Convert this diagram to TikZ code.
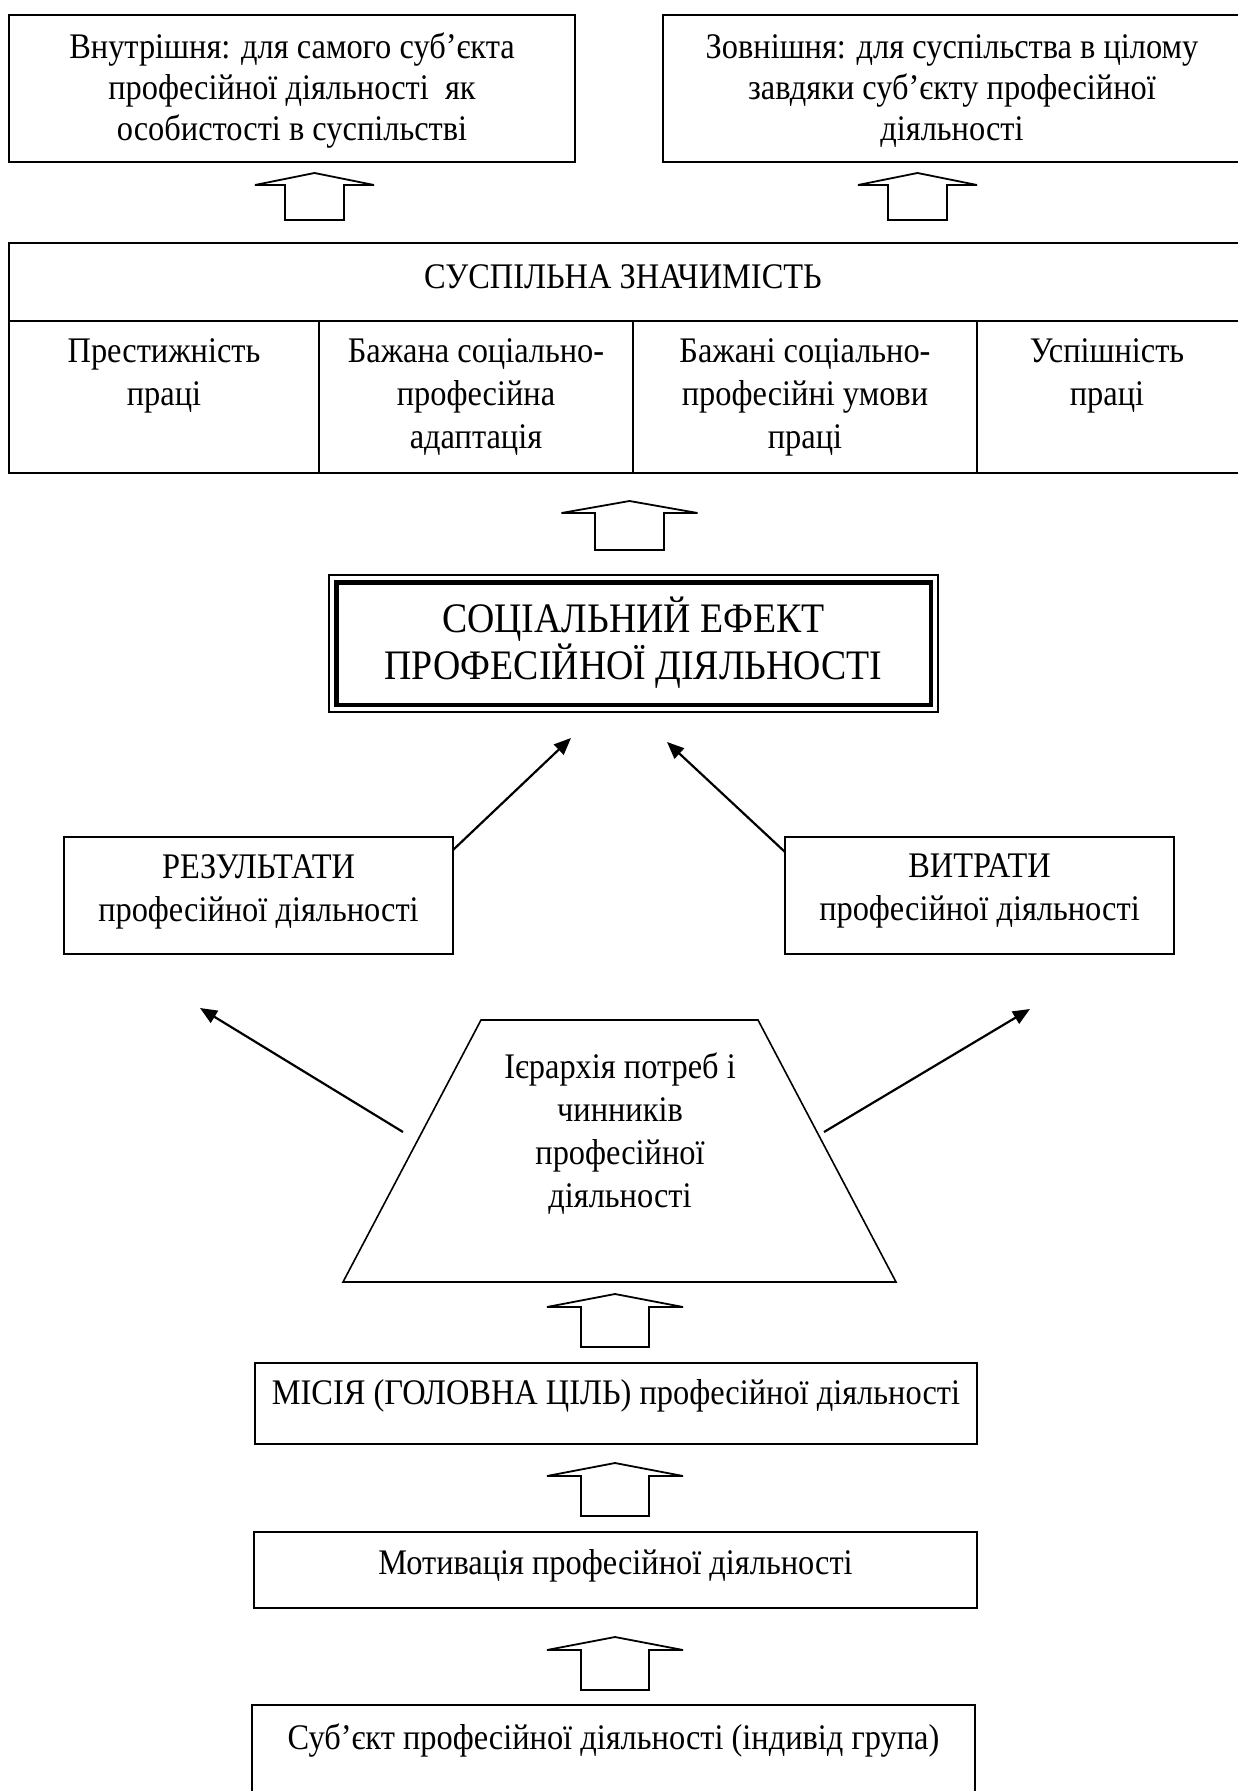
\documentclass[tikz,border=0pt]{standalone}
\usepackage{fontspec}
\setmainfont{Liberation Serif}[FakeStretch=0.9]
\usetikzlibrary{arrows.meta,fit}

\tikzset{
  frame/.style={draw, line width=1pt, inner sep=0pt},
  ghost/.style={inner sep=0pt},
  edge/.style={line width=1pt},
  thinedge/.style={line width=0.8pt},
  link/.style={line width=1.1pt, -{Triangle[length=8.5pt,width=7pt]}},
  hollow/.style={line width=0.9pt, line join=miter},
  txt/.style={align=center, inner sep=0pt, font=\fontsize{18pt}{20.5pt}\selectfont},
  txtb/.style={align=center, inner sep=0pt, font=\fontsize{18pt}{21.5pt}\selectfont},
  bigtxt/.style={align=center, inner sep=0pt, font=\fontsize{21pt}{23.5pt}\selectfont},
  % hollow block arrow pointing up: head half-width, shaft half-width, head height, total length
  pics/blockup/.style n args={4}{code={
    \draw[hollow] (-#2,#3) -- (-#1,#3) -- (0,0) -- (#1,#3) -- (#2,#3)
      -- (#2,#4) -- (-#2,#4) -- cycle;
  }}
}

\begin{document}
\begin{tikzpicture}[x=0.5pt,y=-0.5pt]
\useasboundingbox (0,0) rectangle (1238,1791);

% ---- two top boxes
\node[frame, fit={(9,15) (575,162)}] (inner) {};
\node[txt] (t-inner) at (292,91)
  {Внутрішня: для самого суб’єкта\\професійної діяльності\ \ як\\особистості в суспільстві};
\node[ghost, fit={(663,15) (1238,162)}] (outer) {};
\draw[edge] (outer.north east) -- (outer.north west) -- (outer.south west) -- (outer.south east);
\node[txt] (t-outer) at (952,91)
  {Зовнішня: для суспільства в цілому\\завдяки суб’єкту професійної\\діяльності};

\pic at (314.5,173) {blockup={59.5}{29.5}{12}{47}};
\pic at (917.5,173) {blockup={59.5}{29.5}{12}{47}};

% ---- table of social significance
\node[ghost, fit={(9,243) (1238,473)}] (table) {};
\coordinate (hdr-l) at (9,321);
\coordinate (hdr-r) at (1238,321);
\draw[edge] (table.north east) -- (table.north west) -- (table.south west) -- (table.south east);
\draw[edge] (hdr-l) -- (hdr-r);
\coordinate (d1t) at (319,321); \coordinate (d1b) at (319,473);
\coordinate (d2t) at (633,321); \coordinate (d2b) at (633,473);
\coordinate (d3t) at (977,321); \coordinate (d3b) at (977,473);
\draw[edge] (d1t) -- (d1b) (d2t) -- (d2b) (d3t) -- (d3b);
\node[txt] (header) at (623,277) {СУСПІЛЬНА ЗНАЧИМІСТЬ};
\node[txtb] (c1) at (164,375.5) {Престижність\\праці};
\node[txtb] (c2) at (476,397) {Бажана соціально-\\професійна\\адаптація};
\node[txtb] (c3) at (805,397) {Бажані соціально-\\професійні умови\\праці};
\node[txtb] (c4) at (1107,375.5) {Успішність\\праці};

\pic at (629.5,501) {blockup={68}{34.5}{12}{49}};

% ---- central box with double frame
\node[draw, line width=0.7pt, inner sep=0pt, fit={(329,575) (938,712)}] (effect) {};
\draw[line width=2.2pt] ([shift={(8,8)}]effect.north west) rectangle ([shift={(-8,-8)}]effect.south east);
\node[bigtxt] (t-effect) at (633.5,643) {СОЦІАЛЬНИЙ ЕФЕКТ\\ПРОФЕСІЙНОЇ ДІЯЛЬНОСТІ};

% ---- results and costs
\node[frame, fit={(64,837) (453,954)}] (results) {};
\node[txtb] (t-results) at (258.5,892) {РЕЗУЛЬТАТИ\\професійної діяльності};
\node[frame, fit={(785,837) (1174,954)}] (costs) {};
\node[txtb] (t-costs) at (979.5,891) {ВИТРАТИ\\професійної діяльності};

\coordinate (r-out) at (453,850);
\coordinate (r-in) at (571,738);
\coordinate (c-out) at (785,852);
\coordinate (c-in) at (667,742);
\draw[link] (r-out) -- (r-in);
\draw[link] (c-out) -- (c-in);

% ---- hierarchy trapezoid
\coordinate (tz-tl) at (481,1020);
\coordinate (tz-tr) at (758,1020);
\coordinate (tz-br) at (896,1282);
\coordinate (tz-bl) at (343,1282);
\draw[thinedge, line join=miter] (tz-tl) -- (tz-tr) -- (tz-br) -- (tz-bl) -- cycle;
\node[txtb] (t-hier) at (620,1134)
  {Ієрархія потреб і\\чинників\\професійної\\діяльності};

\coordinate (h-left) at (403,1132);
\coordinate (h-left-tip) at (200,1008);
\coordinate (h-right) at (824,1132);
\coordinate (h-right-tip) at (1030,1009);
\draw[link] (h-left) -- (h-left-tip);
\draw[link] (h-right) -- (h-right-tip);

% ---- bottom chain
\pic at (615,1294) {blockup={68}{34}{13}{53}};

\node[frame, fit={(255,1363) (977,1444)}] (mission) {};
\node[txt] (t-mission) at (616,1396) {МІСІЯ (ГОЛОВНА ЦІЛЬ) професійної діяльності};

\pic at (615,1463) {blockup={68}{34}{13}{53}};

\node[frame, fit={(254,1532) (977,1608)}] (motiv) {};
\node[txt] (t-motiv) at (615.5,1566) {Мотивація професійної діяльності};

\pic at (615,1637) {blockup={68}{34}{13}{53}};

\node[ghost, fit={(252,1705) (975,1791)}] (subject) {};
\draw[edge] (subject.south west) -- (subject.north west) -- (subject.north east) -- (subject.south east);
\node[txt] (t-subject) at (613.5,1740) {Суб’єкт професійної діяльності (індивід група)};

\end{tikzpicture}
\end{document}
